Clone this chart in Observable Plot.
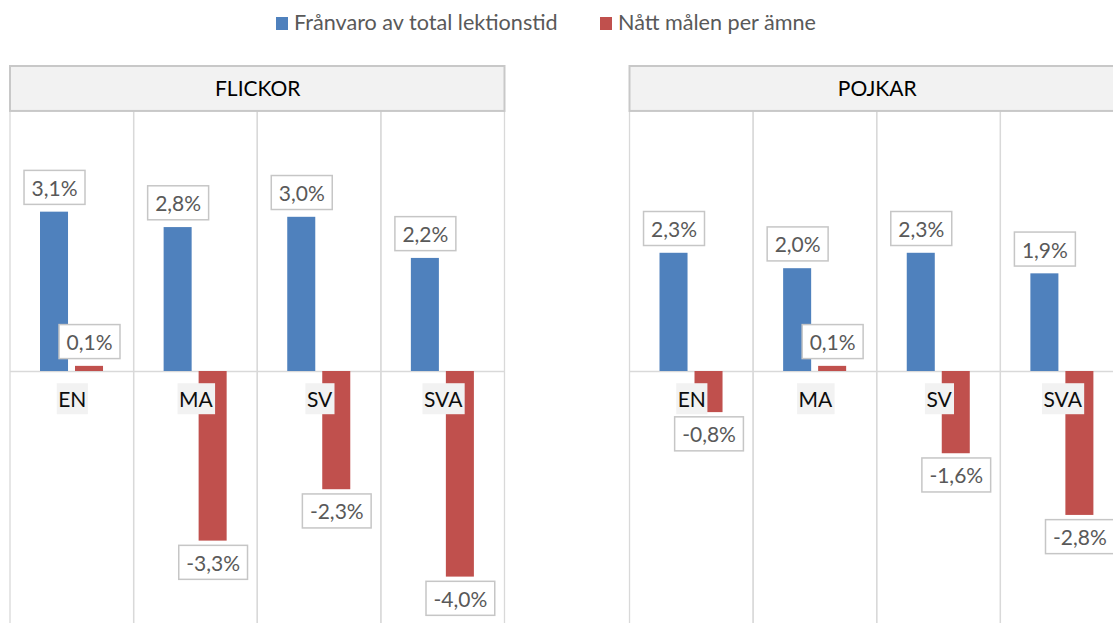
<!DOCTYPE html>
<html>
<head>
<meta charset="utf-8">
<script src="https://cdn.jsdelivr.net/npm/d3@7"></script>
<script src="https://cdn.jsdelivr.net/npm/@observablehq/plot@0.6"></script>
<style>
  html, body { margin: 0; padding: 0; background: #fff; overflow: hidden; width: 1113px; height: 623px; }
  #wrap { position: relative; width: 1113px; height: 623px; overflow: hidden; }
  .leg { position: absolute; top: 9px; display: flex; align-items: center; font-family: Lato, sans-serif; font-size: 21.6px; color: #595959; white-space: nowrap; }
  .leg .sw { width: 12px; height: 13px; margin-right: 6px; margin-top: 3px; }
  #chart { position: absolute; left: 0; top: 45px; width: 1124px; }
  #chart svg { max-width: none !important; }
</style>
</head>
<body>
<div id="wrap">
  <div id="legend"></div>
  <div id="chart"></div>
</div>
<script>
// ---- data ----
const groups = ["FLICKOR", "POJKAR"];
const subjects = ["EN", "MA", "SV", "SVA"];
const seriesNames = ["Frånvaro av total lektionstid", "Nått målen per ämne"];
const seriesColors = ["#4f81bd", "#c0504d"];
const franvaroFlickor = [3.1, 2.8, 3.0, 2.2];
const nattFlickor = [0.1, -3.3, -2.3, -4.0];
const franvaroPojkar = [2.3, 2.0, 2.3, 1.9];
const nattPojkar = [-0.8, 0.1, -1.6, -2.8];

// ---- table ----
const rows = [];
subjects.forEach((s, i) => {
  rows.push({g: "FLICKOR", subject: s, franvaro: franvaroFlickor[i], natt: nattFlickor[i]});
  rows.push({g: "POJKAR", subject: s, franvaro: franvaroPojkar[i], natt: nattPojkar[i]});
});
const headers = groups.map(g => ({g}));
const fmt = v => (v < 0 ? "-" : "") + Math.abs(v).toFixed(1).replace(".", ",") + "%";

// ---- legend ----
const legend = document.getElementById("legend");
const legLeft = [276, 600];
seriesNames.forEach((name, i) => {
  const d = document.createElement("div");
  d.className = "leg";
  d.style.left = legLeft[i] + "px";
  d.innerHTML = `<div class="sw" style="background:${seriesColors[i]}"></div><span>${name}</span>`;
  legend.appendChild(d);
});

// ---- chart ----
const FS = 21;
const chart = Plot.plot({
  width: 1124,
  height: 600,
  marginLeft: 10,
  marginRight: 0,
  marginTop: 69,
  marginBottom: 17,
  style: {fontFamily: "Lato, sans-serif", background: "transparent", maxWidth: "none"},
  fx: {domain: groups, paddingInner: 0.2018, paddingOuter: 0, axis: null, round: false},
  x: {domain: subjects, padding: 0, axis: null, round: false},
  y: {domain: [-5, 5], axis: null},
  marks: [
    // grid cells
    Plot.barY(rows, {fx: "g", x: "subject", y1: -5, y2: 5.06, fill: "none", stroke: "#d9d9d9", strokeWidth: 1.3}),
    Plot.ruleY(headers, {fx: "g", y: 0, stroke: "#d9d9d9", strokeWidth: 1.3}),
    // bars
    Plot.barY(rows, {fx: "g", x: "subject", y: "franvaro", fill: seriesColors[0], insetLeft: 30, insetRight: 65.6}),
    Plot.barY(rows, {fx: "g", x: "subject", y: "natt", fill: seriesColors[1], insetLeft: 65, insetRight: 30.6}),
    // header boxes
    Plot.rect(headers, {fx: "g", y1: 5.06, y2: 5.934, fill: "#f2f2f2", stroke: "#c8c8c8", strokeWidth: 2}),
    Plot.text(headers, {fx: "g", y: 5.5, text: "g", fill: "#000000", fontSize: FS}),
    // category labels
    Plot.text(rows, {fx: "g", x: "subject", y: 0, text: "subject", dy: 29, fill: "#0d0d0d", fontSize: FS}),
    // value labels
    Plot.text(rows, {fx: "g", x: "subject", y: "franvaro", text: d => fmt(d.franvaro), dx: -17.8, dy: -23, fill: "#595959", fontSize: FS}),
    Plot.text(rows.filter(d => d.natt >= 0), {fx: "g", x: "subject", y: "natt", text: d => fmt(d.natt), dx: 17.2, dy: -23, fill: "#595959", fontSize: FS}),
    Plot.text(rows.filter(d => d.natt < 0), {fx: "g", x: "subject", y: "natt", text: d => fmt(d.natt), dx: 17.2, dy: 23, fill: "#595959", fontSize: FS})
  ]
});
document.getElementById("chart").appendChild(chart);

// ---- label boxes ----
function addBoxes(sel, padX, h, fill, stroke, sw) {
  chart.querySelectorAll(sel).forEach(t => {
    const b = t.getBBox();
    const w = b.width + 2 * padX;
    const r = document.createElementNS("http://www.w3.org/2000/svg", "rect");
    r.setAttribute("x", b.x + b.width / 2 - w / 2);
    r.setAttribute("y", b.y + b.height / 2 - h / 2);
    r.setAttribute("width", w);
    r.setAttribute("height", h);
    r.setAttribute("fill", fill);
    if (stroke) { r.setAttribute("stroke", stroke); r.setAttribute("stroke-width", sw); }
    const tr = t.getAttribute("transform");
    if (tr) r.setAttribute("transform", tr);
    t.parentNode.insertBefore(r, t);
  });
}
addBoxes('g[fill="#595959"] text', 7.5, 34, "#ffffff", "#c6c6c6", 1.5);
addBoxes('g[fill="#0d0d0d"] text', 1.5, 31, "#f2f2f2", null, 0);
</script>
</body>
</html>
